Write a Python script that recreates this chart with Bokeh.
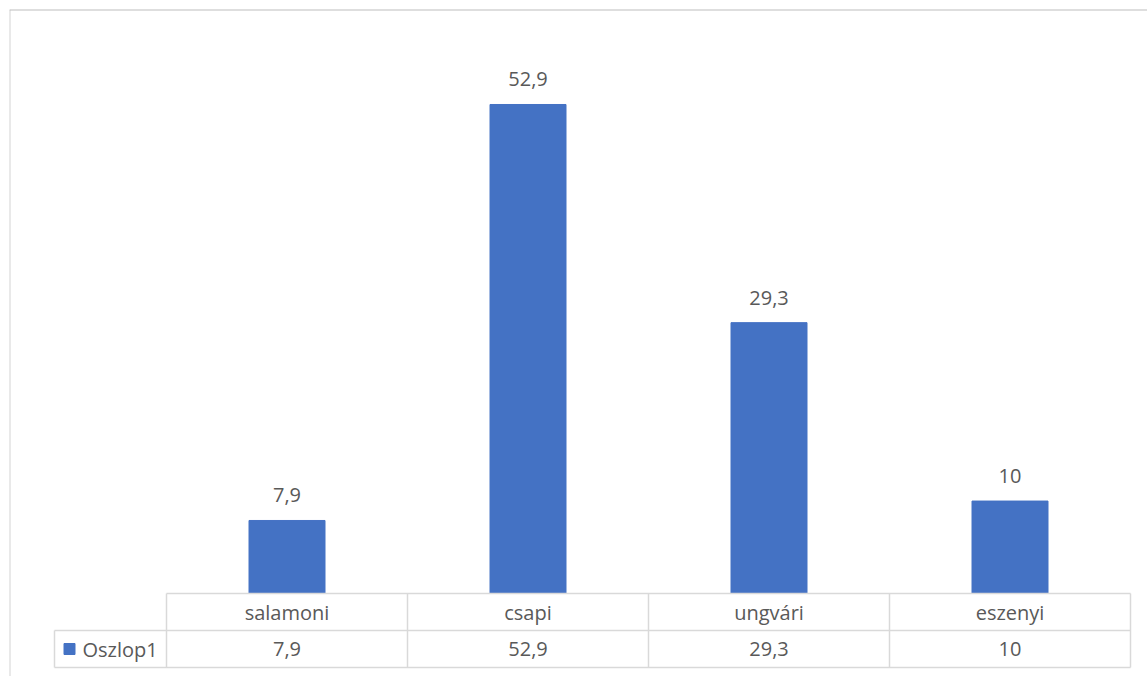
from bokeh.plotting import figure
from bokeh.models import ColumnDataSource, Range1d, Span
from bokeh.core.properties import value
from bokeh.embed import file_html
from bokeh.resources import INLINE

# ---- data ----
categories = ["salamoni", "csapi", "ungvári", "eszenyi"]
values = [7.9, 52.9, 29.3, 10]
series_name = "Oszlop1"

def fmt(v):
    return f"{v:g}".replace(".", ",")

labels = [fmt(v) for v in values]

# ---- layout constants (pixels, page coordinates) ----
W, H = 1147, 676
OFF = 9                      # frame starts at this page x / y
PX_PER_UNIT = 9.244          # vertical pixels per value unit
BASE_PX = 593                # page y of value 0
COL_PX = 241                 # table column width
COL0_PX = 166                # page x of first table column
ROW_PX = 37                  # table row height
LEG_PX = 54                  # page x of legend cell left edge
KEY_PX = 69                  # page x of legend key centre

row = ROW_PX / PX_PER_UNIT
x0 = (OFF - COL0_PX) / COL_PX
x1 = (W - COL0_PX) / COL_PX
y1 = (BASE_PX - OFF) / PX_PER_UNIT
y0 = -(H - BASE_PX) / PX_PER_UNIT
leg_x = (LEG_PX - COL0_PX) / COL_PX
key_x = (KEY_PX - COL0_PX) / COL_PX

TEXT = "#595959"
GRID = "#d9d9d9"
BLUE = "#4472C4"
FONT = value("Open Sans")
FS = "20px"

p = figure(width=W, height=H, output_backend="svg", toolbar_location=None,
           x_range=Range1d(x0, x1), y_range=Range1d(y0, y1),
           min_border=0, min_border_left=OFF, min_border_right=0,
           min_border_top=OFF, min_border_bottom=0)
p.axis.visible = False
p.grid.visible = False
p.outline_line_color = None
p.background_fill_color = "white"
p.border_fill_color = "white"

# chart-area border (only the top and left edges fall inside the window)
p.add_layout(Span(location=x0, dimension="height", line_color="#d4d4d4",
                  line_width=2))
p.add_layout(Span(location=y1, dimension="width", line_color="#bdbdbd",
                  line_width=2))

n = len(categories)
xs = [i + 0.5 for i in range(n)]
src = ColumnDataSource(dict(x=xs, top=values, lab=labels, cat=categories))

p.vbar(x="x", top="top", bottom=0, width=76 / COL_PX, source=src,
       fill_color=BLUE, line_color=BLUE)

p.text(x="x", y="top", text="lab", source=src, text_align="center",
       text_baseline="middle", y_offset=-25, text_font=FONT,
       text_font_size=FS, text_color=TEXT)

# ---- data table ----
# horizontal lines
p.segment(x0=[0, leg_x, leg_x], y0=[0, -row, -2 * row],
          x1=[n, n, n], y1=[0, -row, -2 * row],
          line_color=GRID, line_width=1.5)
# vertical lines
p.segment(x0=list(range(n + 1)) + [leg_x], y0=[0] * (n + 1) + [-row],
          x1=list(range(n + 1)) + [leg_x], y1=[-2 * row] * (n + 2),
          line_color=GRID, line_width=1.5)

p.text(x="x", y=-row / 2, text="cat", source=src, text_align="center",
       text_baseline="middle", text_font=FONT, text_font_size=FS,
       text_color=TEXT)
p.text(x="x", y=-1.5 * row, text="lab", source=src, text_align="center",
       text_baseline="middle", text_font=FONT, text_font_size=FS,
       text_color=TEXT)

# legend key in table
p.scatter(x=[key_x], y=[-1.5 * row], marker="square", size=11,
          fill_color=BLUE, line_color=BLUE)
p.text(x=[leg_x], y=[-1.5 * row], text=[series_name], x_offset=28,
       text_align="left", text_baseline="middle", text_font=FONT,
       text_font_size=FS, text_color=TEXT)

open("out.html", "w").write(file_html(p, INLINE))
